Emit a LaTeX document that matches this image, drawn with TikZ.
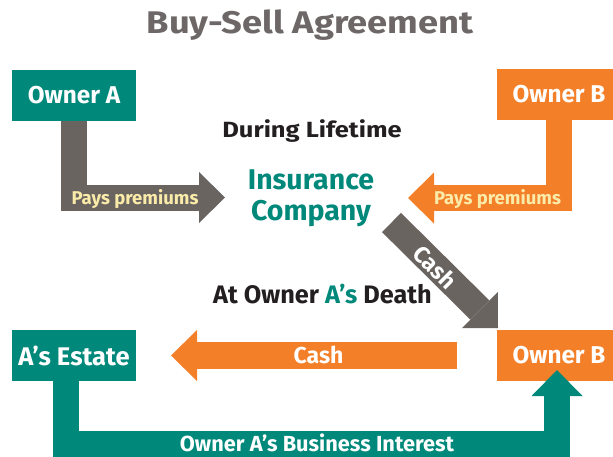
\documentclass[tikz,border=0pt]{standalone}
\usepackage{fontspec}
\setmainfont{Fira Sans}
\newfontfamily\widefont{Fira Sans}[FakeStretch=1.16]
\usetikzlibrary{arrows.meta}
\definecolor{tealc}{HTML}{00897A}
\definecolor{orangec}{HTML}{F47F29}
\definecolor{grayc}{HTML}{6A6461}
\definecolor{creamc}{HTML}{FBEBA8}
\definecolor{titlec}{HTML}{6D6867}
\definecolor{inkc}{HTML}{231F20}
\begin{document}
\begin{tikzpicture}[x=1pt,y=-1pt,
  box/.style={inner sep=0pt, minimum width=124pt, minimum height=51pt, text=white,
    font=\bfseries\fontsize{24.3}{24}\selectfont},
  arr/.style={line width=26pt, line join=miter,
    -{Triangle[length=26pt,width=51pt,line width=0pt]}},
  lab/.style={anchor=base, inner sep=0pt, font=\bfseries\fontsize{#1}{#1}\selectfont},
  wlab/.style={anchor=base, inner sep=0pt, font=\widefont\bfseries\fontsize{#1}{#1}\selectfont},
]
\useasboundingbox (0,0) rectangle (613,456);
% boxes
\node[box, fill=tealc] (oa) at (74,95.5) {Owner A};
\node[box, fill=orangec] (obt) at (559,94.5) {Owner B};
\node[box, fill=tealc, font=\bfseries\fontsize{25.5}{25}\selectfont] (ae) at (74,355.5) {A’s Estate};
\node[box, fill=orangec] (obb) at (559,355.5) {Owner B};
% coordinates
\coordinate (tipA) at (225,197.5);
\coordinate (tipB) at (408,198);
\coordinate (dstart) at (391.5,222.5);
\coordinate (dtip) at (498,328);
\coordinate (cstart) at (457,355.5);
\coordinate (ctip) at (171,355.5);
\coordinate (tcorner) at (557,444);
\coordinate (ttip) at (557,370);
% arrows
\draw[arr, draw=grayc] (oa.south) |- (tipA);
\draw[arr, draw=orangec] (obt.south) |- (tipB);
\draw[arr, draw=grayc, line width=27pt,
  -{Triangle[length=25.5pt,width=51pt,line width=0pt]}] (dstart) -- (dtip);
\draw[arr, draw=orangec, line width=27pt] (cstart) -- (ctip);
\draw[arr, draw=tealc] ([xshift=-8pt]ae.south) |- (tcorner) -- (ttip);
% texts
\node[wlab=31.3, text=titlec] (title) at (310,33) {Buy-Sell Agreement};
\node[wlab=22, text=inkc] (dl) at (312,137) {During Lifetime};
\node[anchor=base, inner sep=0pt, align=center, text=tealc,
  font=\bfseries\fontsize{28.5}{31}\selectfont] (ic) at (311,220) {Insurance\\Company};
\node[lab=25.3, text=inkc] (death) at (322.5,303) {At Owner \textcolor{tealc}{A’s} Death};
\node[lab=18.5, text=creamc] (ppa) at (135,204) {Pays premiums};
\node[lab=18.5, text=creamc] (ppb) at (497.5,204) {Pays premiums};
\node[lab=23, text=white, rotate=-45, anchor=center] (cd) at (435,267) {Cash};
\node[lab=23, text=white] (cash) at (318.5,363) {Cash};
\node[lab=21.8, text=white] (bi) at (317,451.5) {Owner A’s Business Interest};
\end{tikzpicture}
\end{document}
